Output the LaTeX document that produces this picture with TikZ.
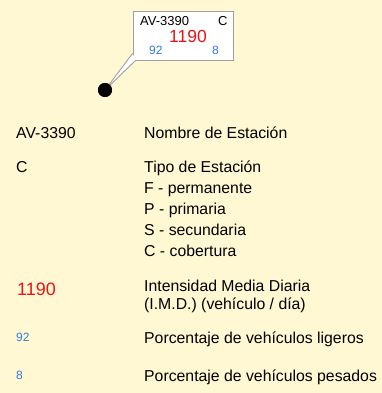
\documentclass[tikz,border=0pt]{standalone}
\usepackage{fontspec}
\setmainfont{Liberation Sans}
\usepackage{tikz}
\usetikzlibrary{calc, positioning}
\definecolor{fondo}{HTML}{FFF8D2}
\definecolor{rojoimd}{HTML}{E8141A}
\definecolor{azulpct}{HTML}{2F7BE0}
\newcommand{\txt}[1]{\fontsize{#1}{21}\selectfont}

\begin{document}
\begin{tikzpicture}[x=1pt, y=-1pt,
            etiqueta/.style={anchor=base west, inner sep=0pt, font=\txt{15.8}, align=left},
            caja/.style={rectangle, draw=gray!75, line width=0.9pt, fill=white, minimum width=100pt, minimum height=49pt, inner sep=0pt},
            punto/.style={circle, fill=black, inner sep=0pt, minimum size=14pt}]

            \fill[fondo] (0,0) rectangle (382,393);
            \useasboundingbox (0,0) rectangle (382,393);

            % estacion en el mapa
            \node[caja] (caja) at (183,35.5) {};
            \node[punto] (punto) at (105,90) {};
            \fill[white] ($(caja.south west)+(0,-7)$) -- (punto.center) -- ($(caja.south west)+(3,0)$) -- cycle;
            \draw[gray!75, line width=0.9pt] ($(caja.south west)+(0,-7)$) -- (punto.center) -- ($(caja.south west)+(3,0)$);
            \node[punto] at (punto.center) {};
            \node[etiqueta, font=\txt{13}] (cnombre) at (140,26) {AV-3390};
            \node[etiqueta, font=\txt{13}] (ctipo) at (218,26) {C};
            \node[etiqueta, font=\txt{17.5}, text=rojoimd] (cimd) at (169,43) {1190};
            \node[etiqueta, font=\txt{12}, text=azulpct] (cligeros) at (149,55) {92};
            \node[etiqueta, font=\txt{12}, text=azulpct] (cpesados) at (212,55) {8};

            % leyenda
            \node[etiqueta] (nombre) at (16,138) {AV-3390};
            \node[etiqueta] (tipo) at (16,172) {C};
            \node[etiqueta, font=\txt{18}, text=rojoimd] (imd) at (17,295) {1190};
            \node[etiqueta, font=\txt{12}, text=azulpct] (ligeros) at (16,341) {92};
            \node[etiqueta, font=\txt{12}, text=azulpct] (pesados) at (16,379) {8};

            \node[etiqueta] (dnombre) at (144,138) {Nombre de Estación};
            \node[etiqueta] (dtipo) at (144,256) {Tipo de Estación\\F - permanente\\P - primaria\\S - secundaria\\C - cobertura};
            \node[etiqueta, font=\fontsize{15.8}{18}\selectfont] (dimd) at (144,309) {Intensidad Media Diaria\\(I.M.D.) (vehículo / día)};
            \node[etiqueta] (dligeros) at (144,343) {Porcentaje de vehículos ligeros};
            \node[etiqueta] (dpesados) at (144,381) {Porcentaje de vehículos pesados};
        \end{tikzpicture}
\end{document}
